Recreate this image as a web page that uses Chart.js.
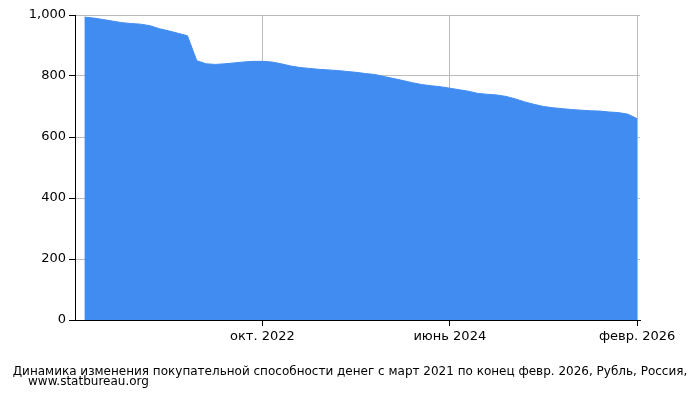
<!DOCTYPE html>
<html><head><meta charset="utf-8">
<script src="https://cdn.jsdelivr.net/npm/chart.js@4/dist/chart.umd.min.js"></script>
<style>body{margin:0;background:#fff}</style></head>
<body><div style="width:700px;height:400px"><canvas id="c"></canvas></div>
<script>
const monthIndex = Array.from({length:60},(_,i)=>i);
const values = [993,990,985,980,975,972,970,965,955,948,940,932,850,840,838,840,843,846,848,848,846,840,833,828,825,822,820,818,815,812,808,805,798,792,785,778,772,768,765,760,755,750,743,740,738,733,725,715,707,700,696,693,690,688,686,685,682,680,675,660];
const tickPositions = [19,39,59];
const tickLabels = {19:'окт. 2022',39:'июнь 2024',59:'февр. 2026'};
const titleText = 'Динамика изменения покупательной способности денег с март 2021 по конец февр. 2026, Рубль, Россия,';
const siteText = 'www.statbureau.org';
const font = {family:'DejaVu Sans', size:13};
const textPlugin = {id:'txt', afterDraw(ch){const c=ch.ctx;c.save();c.fillStyle='#000';c.font='12px "DejaVu Sans"';c.textAlign='center';c.textBaseline='middle';c.fillText(titleText,350,372);c.textAlign='left';c.fillText(siteText,28,382);c.restore();}};
new Chart(document.getElementById('c'),{
 type:'line',
 data:{labels:monthIndex,datasets:[{data:monthIndex.map((x,i)=>({x,y:values[i]})),fill:'origin',backgroundColor:'#418CF0',borderColor:'#418CF0',borderWidth:1,pointRadius:0,tension:0,stepped:false}]},
 options:{responsive:true,maintainAspectRatio:false,animation:false,
  layout:{padding:{left:20,right:60,top:15,bottom:50}},
  plugins:{legend:{display:false},tooltip:{enabled:false}},
  scales:{
   x:{type:'linear',min:-1,max:59.3,
    afterBuildTicks(a){a.ticks=tickPositions.map(v=>({value:v}));},
    afterFit(a){a.height=30;},
    ticks:{font,color:'#000',maxRotation:0,autoSkip:false,callback:v=>tickLabels[v]||''},
    grid:{color:'#bbb',tickLength:6,tickColor:'#000'},border:{color:'#000'}},
   y:{min:0,max:1000,
    afterFit(a){a.width=55;},
    ticks:{stepSize:200,font,color:'#000'},
    grid:{color:'#bbb',tickLength:6,tickColor:'#000'},border:{color:'#000'}}
  }},
 plugins:[textPlugin]
});
</script></body></html>
